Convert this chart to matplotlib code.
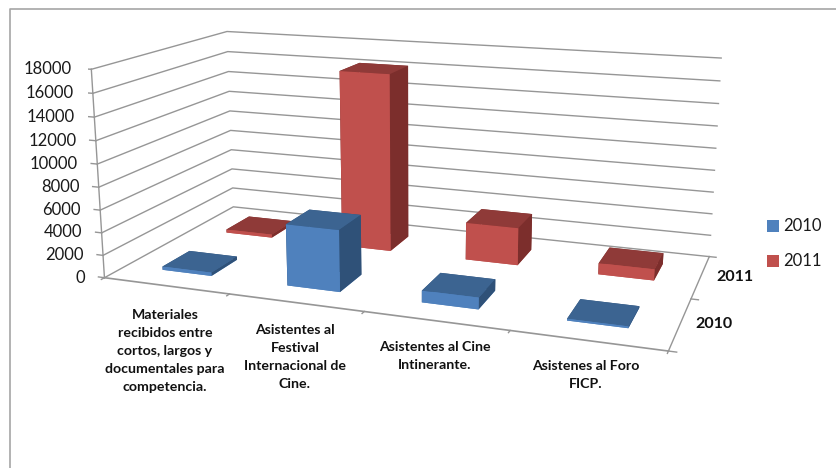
import numpy as np
import matplotlib
matplotlib.use('Agg')
import matplotlib.pyplot as plt
from matplotlib.lines import Line2D
from matplotlib.patches import Rectangle

categories = ["Materiales\nrecibidos entre\ncortos, largos y\ndocumentales para\ncompetencia.",
              "Asistentes al\nFestival\nInternacional de\nCine.",
              "Asistentes al Cine\nIntinerante.",
              "Asistenes al Foro\nFICP."]
series_names = ["2010", "2011"]
values_2010 = [300, 5350, 1000, 150]
values_2011 = [300, 16300, 3400, 1000]
z_ticks = [0, 2000, 4000, 6000, 8000, 10000, 12000, 14000, 16000, 18000]

W, H = 837, 468
FRAME = '#a6a6a6'
GRID = '#969696'
FRONT = ['#4f81bd', '#c0504d']
TOP = ['#3c6491', '#8f3a38']
SIDE = ['#2f5178', '#7c2e2c']

fig = plt.figure(figsize=(W/100, H/100), dpi=100, facecolor='white')
S, TX, TY = 3436.16, 414.53, 300.74
wpx = S*0.185
ax = fig.add_axes([(TX-S*0.095)/W, (TY-S*0.095)/H, wpx/W, wpx/H], projection='3d', computed_zorder=False)
ax.set_xlim(0, 4); ax.set_ylim(0, 2); ax.set_zlim(0, 18000)
ax.view_init(elev=14.152, azim=-70.156, roll=-0.009)
ax.set_proj_type('persp', focal_length=0.3688)
ax.set_box_aspect((2.6578, 1.3010, 1.0))
ax.set_axis_off()
ax.patch.set_alpha(0)

zo = 1
for z in z_ticks:
    ax.plot([0, 0, 4], [0, 2, 2], [z, z, z], color=GRID, lw=1.0, zorder=zo)
ax.plot([0, 0], [0, 0], [0, 18000], color=GRID, lw=1.0, zorder=zo)
ax.plot([0, 4], [0, 0], [0, 0], color=GRID, lw=1.2, zorder=zo)
ax.plot([4, 4], [0, 2], [0, 0], color=GRID, lw=1.0, zorder=zo)
for i in range(5):
    ax.plot([i, i], [0, -0.04], [0, 0], color=GRID, lw=1.0, zorder=zo)
for j in range(3):
    ax.plot([4, 4.05], [j, j], [0, 0], color=GRID, lw=1.0, zorder=zo)
for z in z_ticks:
    ax.plot([0, -0.05], [0, 0], [z, z], color=GRID, lw=1.0, zorder=zo)

zo = 2
for j, vals in reversed(list(enumerate([values_2010, values_2011]))):
    for i, v in enumerate(vals):
        # bar3d face order: bottom, top, -y, +y, -x, +x
        cols = [FRONT[j], TOP[j], FRONT[j], SIDE[j], SIDE[j], SIDE[j]]
        ax.bar3d(i+0.3, j+0.3, 0, 0.4, 0.4, v, color=cols, shade=False, zorder=zo)
        zo += 1

def ptext(x, y, s, **kw):
    fig.text(x/W, 1-y/H, s, **kw)

for z, y in zip(z_ticks, [278, 255, 232, 210, 187, 164, 141, 117, 93, 69]):
    ptext(85 - (278-y)*0.062, y, str(z), ha='right', va='center', family='Lato', fontsize=12, color='#1a1a1a')

cat_xy = [(165, 351), (295, 357), (435, 356), (586, 375)]
for s, (x, y) in zip(categories, cat_xy):
    ptext(x, y, s, ha='center', va='center', family='Lato', fontsize=10.2, fontweight='bold',
          color='#111111', linespacing=1.62)

ptext(716, 277, series_names[1], ha='left', va='center', family='Lato', fontsize=11.5, fontweight='bold', color='#111111')
ptext(695, 324, series_names[0], ha='left', va='center', family='Lato', fontsize=11.5, fontweight='bold', color='#111111')

for (y, c, n) in [(226, FRONT[0], series_names[0]), (261, FRONT[1], series_names[1])]:
    fig.add_artist(Rectangle((767/W, 1-(y+6)/H), 12/W, 12/H, transform=fig.transFigure, facecolor=c, edgecolor='none'))
    ptext(783, y, n, ha='left', va='center', family='Lato', fontsize=12, color='#1a1a1a')

fig.add_artist(Line2D([10.5/W, 10.5/W, 1], [0, 1-9/H, 1-9/H], transform=fig.transFigure, color=FRAME, lw=1.2))

fig.savefig('out.png', dpi=100)
